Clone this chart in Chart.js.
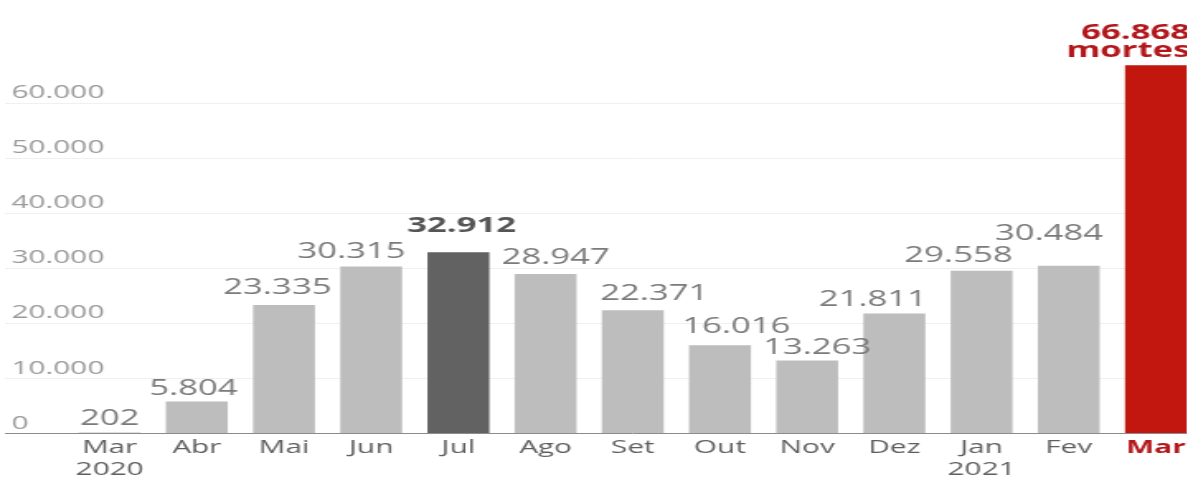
<!DOCTYPE html>
<html>
<head>
<meta charset="utf-8">
<script src="https://cdn.jsdelivr.net/npm/chart.js@4/dist/chart.umd.min.js"></script>
<style>
    html, body { margin: 0; padding: 0; background: #fff; overflow: hidden; }
    #wrap { width: 727px; height: 478px; transform: scaleX(1.65); transform-origin: left top; }
</style>
</head>
<body>
<div id="wrap"><canvas id="deathsChart" width="727" height="478"></canvas></div>
<script>
const months = [['Mar', '2020'], 'Abr', 'Mai', 'Jun', 'Jul', 'Ago', 'Set', 'Out', 'Nov', 'Dez', ['Jan', '2021'], 'Fev', 'Mar'];
const deaths = [202, 5804, 23335, 30315, 32912, 28947, 22371, 16016, 13263, 21811, 29558, 30484, 66868];
const yTicks = [0, 10000, 20000, 30000, 40000, 50000, 60000];

const GRAY = '#bdbdbd';
const DARK = '#626262';
const RED = '#c1170f';
const barColors = deaths.map((v, i) => i === 4 ? DARK : (i === deaths.length - 1 ? RED : GRAY));

// small nudges for the value labels (dx, dy from bar top), like the original layout
const labelNudge = [[0, -13], [-2, -13], [-4, -17], [-12, -15], [2, -26], [6, -16], [13, -16], [10, -18], [6, -12], [-13, -13], [-14, -15], [-12, -32], [0, 0]];

function fmt(n) {
    return String(n).replace(/\B(?=(\d{3})+(?!\d))/g, '.');
}

const valueLabels = {
    id: 'valueLabels',
    afterDatasetsDraw(chart) {
        const ctx = chart.ctx;
        const bars = chart.getDatasetMeta(0).data;
        ctx.save();
        ctx.textBaseline = 'middle';
        bars.forEach((bar, i) => {
            const last = i === bars.length - 1;
            if (last) {
                ctx.font = 'bold 21px "Open Sans"';
                ctx.fillStyle = '#b3161b';
                ctx.textAlign = 'right';
                const xr = bar.x + bar.width / 2 + 2;
                ctx.fillText(fmt(deaths[i]), xr, bar.y - 32);
                ctx.fillText('mortes', xr, bar.y - 14);
                return;
            }
            ctx.textAlign = 'center';
            if (i === 4) {
                ctx.font = 'bold 21px "Open Sans"';
                ctx.fillStyle = '#555';
            } else {
                ctx.font = '21px "Open Sans"';
                ctx.fillStyle = '#7b7b7b';
            }
            const [dx, dy] = labelNudge[i];
            ctx.fillText(fmt(deaths[i]), bar.x + dx, bar.y + dy);
        });
        ctx.restore();
    }
};

const ctx = document.getElementById('deathsChart').getContext('2d');
new Chart(ctx, {
    type: 'bar',
    data: {
        labels: months,
        datasets: [{
            label: 'Mortes',
            data: deaths,
            backgroundColor: barColors,
            categoryPercentage: 1,
            barPercentage: 0.71
        }]
    },
    options: {
        responsive: false,
        animation: false,
        layout: { padding: { left: 7, right: 0, top: 4, bottom: 0 } },
        plugins: {
            legend: { display: false },
            title: { display: false },
            tooltip: { enabled: false }
        },
        scales: {
            x: {
                grid: { display: false, drawTicks: false },
                border: { display: false },
                afterFit: scale => { scale.height = 44.5; },
                ticks: {
                    padding: 4,
                    autoSkip: false,
                    maxRotation: 0,
                    color: c => c.index === deaths.length - 1 ? '#b3161b' : '#5f5f5f',
                    font: c => ({
                        family: '"Open Sans"',
                        size: 18,
                        lineHeight: 1.2,
                        weight: c.index === deaths.length - 1 ? 'bold' : 'normal'
                    })
                }
            },
            y: {
                min: 0,
                max: 78000,
                afterBuildTicks: scale => { scale.ticks = yTicks.map(v => ({ value: v })); },
                afterFit: scale => { scale.width = 33; },
                border: { display: false },
                grid: {
                    drawTicks: true,
                    tickLength: 37,
                    lineWidth: 1,
                    color: c => c.tick && c.tick.value === 0 ? '#8c8c8c' : '#f0f0f0'
                },
                ticks: {
                    mirror: true,
                    crossAlign: 'near',
                    padding: -33,
                    labelOffset: -10,
                    color: '#9a9a9a',
                    font: { family: '"Open Sans"', size: 18 },
                    callback: v => fmt(v)
                }
            }
        }
    },
    plugins: [valueLabels]
});
</script>
</body>
</html>
